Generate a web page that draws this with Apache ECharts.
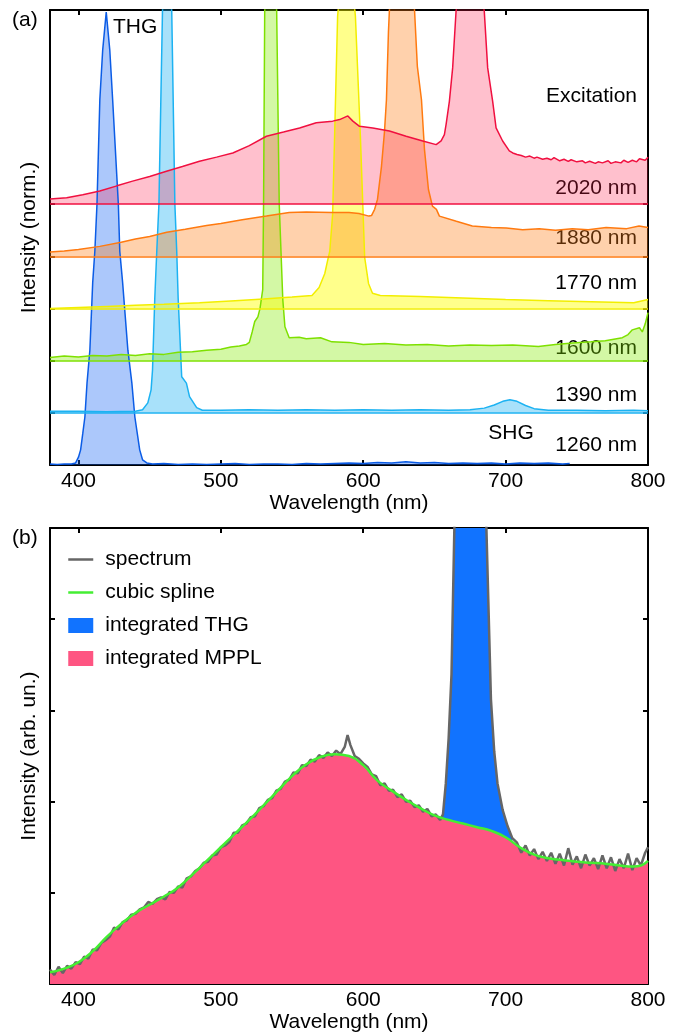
<!DOCTYPE html>
<html>
<head>
<meta charset="utf-8">
<script src="https://cdn.jsdelivr.net/npm/echarts@6/dist/echarts.min.js"></script>
<style>
  html, body { margin: 0; padding: 0; background: #fff; }
  #chart-container { width: 681px; height: 1034px; }
</style>
</head>
<body>
<div id="chart-container"></div>
<script>
// ---- panel (a): spectra, values relative to their own baseline ----
const excitations = ["1260 nm", "1390 nm", "1600 nm", "1770 nm", "1880 nm", "2020 nm"];
const baselines = [0, 1, 2, 3, 4, 5];
const lineColors = ["#0b5ce6", "#1cb2f2", "#7ee000", "#f2ee00", "#ff7a10", "#f01040"];
const fillColors = ["rgba(20,100,245,0.5)", "rgba(28,176,242,0.55)", "rgba(130,235,0,0.5)",
  "rgba(255,255,0,0.65)", "rgba(255,125,20,0.5)", "rgba(255,30,75,0.4)"];

const s1260 = [[380,.02],[385,.01],[390,.02],[395,.02],[398,.04],[400,.15],[401.5,.29],[403,.6],[404.5,.92],
  [406,1.57],[408,2.2],[410,3.5],[411.5,4.1],[413,5.0],[415,7.0],[417,7.95],[419.5,8.68],[422,7.95],[424,7.0],
  [428,5.0],[429,4.1],[431,3.5],[434.7,2.2],[437.5,1.57],[439.6,.92],[443,.29],[445,.1],[448,.04],[452,.02],
  [460,.03],[470,.01],[480,.02],[490,.01],[500,.02],[510,.03],[520,.01],[530,.02],[540,.02],[550,.01],[560,.03],
  [570,.02],[580,.03],[590,.04],[600,.03],[610,.05],[620,.04],[630,.06],[640,.04],[650,.05],[660,.03],[670,.04],
  [680,.03],[690,.04],[700,.02],[710,.04],[720,.03],[730,.04],[740,.02],[745,.03]];
const s1390 = [[380,.03],[400,.03],[420,.02],[440,.03],[445,.06],[448.7,.19],[451,.44],[452,.82],[453.6,2.2],
  [455,3.1],[456.5,4.0],[459,7.7],[462,9.5],[465.5,7.7],[467.7,4.0],[469,3.1],[470,2.2],[472.5,.69],[475.8,.57],
  [478,.31],[483,.1],[487,.05],[500,.05],[520,.06],[540,.05],[560,.06],[580,.05],[600,.06],[620,.05],[640,.06],
  [660,.05],[675,.06],[685,.09],[692,.15],[698,.22],[703,.25],[708,.22],[714,.14],[720,.08],[730,.05],[750,.05],
  [770,.04],[790,.05],[800,.04]];
const s1600 = [[380,.06],[390,.09],[400,.07],[410,.1],[420,.09],[430,.12],[440,.1],[450,.13],[460,.12],[470,.16],
  [480,.17],[490,.2],[500,.22],[507,.26],[513,.28],[518,.31],[520,.35],[522,.55],[523.8,.75],[526,.84],[527.5,1.0],
  [529.4,1.36],[530,3.0],[530.8,6.7],[535,9],[539.2,6.7],[541,3.0],[543.5,1.17],[545,.65],[548,.44],[555,.45],
  [560,.42],[570,.44],[578,.36],[590,.35],[600,.31],[615,.33],[630,.3],[645,.31],[660,.28],[675,.3],[690,.29],
  [705,.3],[723,.27],[735,.31],[747,.34],[760,.36],[770,.38],[782,.44],[786,.5],[789,.59],[794,.63],[796,.55],
  [798,.7],[800,.92]];
const s1770 = [[380,0],[400,.02],[420,.04],[440,.06],[460,.08],[485,.11],[510,.15],[530,.18],[550,.22],[564,.25],
  [569,.4],[573,.67],[575,.92],[576.5,1.1],[578.5,1.8],[582,5.6],[588,7.5],[594.5,5.6],[598,3.3],[601,.98],
  [603.7,.48],[606.5,.29],[612,.25],[640,.23],[670,.2],[700,.17],[730,.15],[760,.13],[790,.11],[800,.17]];
const s1880 = [[380,.08],[390,.1],[400,.13],[415,.19],[430,.27],[440,.33],[450,.38],[462,.46],[475,.52],[490,.59],
  [500,.63],[515,.7],[532,.77],[548,.84],[560,.85],[578,.84],[590,.84],[597,.82],[604,.77],[605.8,.78],[608,.9],
  [610,1.09],[612.8,1.72],[614.9,2.38],[616.3,3.0],[617.7,4.3],[618.4,4.73],[627,7.5],[636,4.73],[638,3.64],
  [640.9,3.0],[643,2.05],[645.8,1.28],[648.6,.96],[651.4,.9],[653.5,.77],[665.4,.67],[676.6,.58],[690,.55],
  [700.5,.54],[712,.51],[723.6,.53],[735,.5],[746.8,.53],[758,.51],[770.6,.55],[785,.53],[793.7,.58],[800,.55]];
const s2020 = [[380,.1],[391.7,.12],[403,.18],[415,.25],[427,.35],[438,.44],[450,.53],[461.8,.63],[473,.72],
  [485,.82],[497,.9],[508.4,.98],[520,1.12],[532,1.3],[544,1.38],[555.3,1.46],[567,1.56],[578.5,1.59],[583.4,1.62],
  [589.2,1.69],[592.7,1.59],[597.4,1.49],[606.7,1.46],[618.4,1.40],[630.1,1.30],[641.8,1.21],[651.2,1.14],
  [654.7,1.21],[657,1.33],[658.2,1.53],[660.5,1.97],[662.8,2.61],[665.2,3.70],[675,5.5],[685,3.70],[687.4,2.61],
  [690.9,1.97],[693.3,1.46],[697.9,1.21],[702.6,1.02],[705,.98],[708,.95],[711,.93],[714,.9],[717,.92],[720,.88],
  [722,.9],[726,.86],[729,.88],[732,.85],[734,.89],[738,.83],[741,.86],[744,.82],[746,.85],[750,.81],[754,.83],
  [756,.79],[759,.82],[763,.78],[765,.81],[768,.79],[772,.83],[774,.78],[777,.81],[781,.79],[783,.84],[786,.8],
  [789,.84],[792,.81],[794,.87],[798,.84],[800,.9]];
const spectraA = [s1260, s1390, s1600, s1770, s1880, s2020];

// ---- panel (b): measured spectrum and cubic spline ----
const spectrumB = [[380,.16],[383,.10],[386,.19],[389,.12],[392,.20],[395,.17],[398,.24],[401,.22],[404,.30],
  [407,.28],[410,.38],[413,.37],[416,.45],[419,.48],[422,.52],[425,.62],[428,.60],[431,.68],[434,.70],[437,.76],
  [440,.77],[443,.82],[446,.84],[449,.90],[452,.88],[455,.93],[458,.95],[461,.93],[464,1.01],[467,1.00],[470,1.07],
  [473,1.06],[476,1.16],[479,1.18],[482,1.24],[485,1.27],[488,1.33],[491,1.34],[494,1.41],[497,1.42],[500,1.50],
  [503,1.52],[506,1.56],[509,1.66],[512,1.66],[515,1.74],[518,1.76],[521,1.83],[524,1.84],[527,1.93],[530,1.95],
  [533,2.02],[536,2.04],[539,2.12],[542,2.14],[545,2.22],[548,2.24],[551,2.32],[554,2.31],[557,2.40],[560,2.39],
  [563,2.46],[566,2.44],[569,2.51],[572,2.48],[575,2.54],[578,2.50],[581,2.56],[584,2.52],[587,2.60],[589,2.73],
  [591,2.62],[594,2.50],[597,2.47],[600,2.42],[603,2.38],[606,2.30],[609,2.28],[612,2.18],[615,2.20],[618,2.12],
  [621,2.13],[624,2.05],[627,2.08],[630,2.00],[633,2.01],[636,1.94],[639,1.96],[642,1.89],[645,1.92],[648,1.84],
  [651,1.86],[654,1.80],[656,1.86],[658,2.20],[660,2.70],[662,3.40],[664,5.00],[667,8.50],[670,11.5],[673,12.5],
  [676,11.5],[680,8.5],[684,6.0],[686.5,5.0],[689.7,3.12],[692,2.55],[694.3,2.20],[697.9,1.91],[701.4,1.73],
  [704.7,1.60],[708,1.55],[711,1.44],[714,1.52],[717,1.41],[720,1.48],[723,1.37],[726,1.45],[729,1.35],[732,1.44],
  [735,1.32],[738,1.43],[741,1.30],[744,1.49],[747,1.31],[750,1.40],[753,1.27],[756,1.42],[759,1.30],[762,1.38],
  [765,1.26],[768,1.41],[771,1.27],[774,1.39],[777,1.24],[780,1.37],[783,1.27],[786,1.43],[789,1.25],[792,1.38],
  [795,1.30],[798,1.44],[800,1.50]];
const splineB = [[380,.13],[390,.17],[400,.24],[410,.36],[420,.52],[430,.66],[440,.78],[450,.87],[460,.96],
  [470,1.06],[480,1.2],[490,1.35],[500,1.5],[510,1.65],[520,1.8],[530,1.96],[540,2.12],[550,2.28],[560,2.41],
  [570,2.49],[580,2.52],[590,2.5],[600,2.4],[610,2.23],[620,2.12],[630,2.02],[640,1.93],[650,1.85],[660,1.8],
  [670,1.76],[680,1.72],[690,1.68],[700,1.61],[710,1.5],[720,1.42],[730,1.38],[740,1.36],[750,1.34],[760,1.33],
  [770,1.32],[780,1.3],[790,1.29],[795,1.3],[800,1.35]];
const thgRange = [654, 705];

const xTicks = [400, 500, 600, 700];
const xLabels = [400, 500, 600, 700, 800];
const yTicksA = [1, 2, 3, 4, 5];
const yTicksB = [1, 2, 3, 4];

const FONT = "Liberation Sans, Arial, Helvetica, sans-serif";

var dom = document.getElementById("chart-container");
var myChart = echarts.init(dom, null, { renderer: "canvas" });

const frame = { show: true, onZero: false, lineStyle: { color: "#000", width: 2 } };
const xAxisOf = (grid, pos, withLabels) => ({
  gridIndex: grid, type: "value", position: pos, min: 380, max: 800,
  axisLine: frame,
  axisTick: { show: true, inside: true, length: 5, customValues: xTicks, lineStyle: { color: "#000", width: 2 } },
  axisLabel: withLabels
    ? { show: true, customValues: xLabels, fontSize: 21, fontFamily: FONT, color: "#000", margin: 6 }
    : { show: false },
  splitLine: { show: false },
  name: withLabels ? "Wavelength (nm)" : "",
  nameLocation: "middle", nameGap: 26,
  nameTextStyle: { fontSize: 21, fontFamily: FONT, color: "#000" }
});
const yAxisOf = (grid, pos, max, ticks, title) => ({
  gridIndex: grid, type: "value", position: pos, min: 0, max: max,
  axisLine: frame,
  axisTick: { show: true, inside: true, length: 5, customValues: ticks, lineStyle: { color: "#000", width: 2 } },
  axisLabel: { show: false },
  splitLine: { show: false },
  name: title || "", nameLocation: "middle", nameGap: 10,
  nameTextStyle: { fontSize: 21, fontFamily: FONT, color: "#000" }
});

const seriesA = spectraA.map((s, i) => ({
  name: excitations[i], type: "line", xAxisIndex: 0, yAxisIndex: 0,
  data: s.map(p => [p[0], p[1] + baselines[i]]),
  showSymbol: false, symbol: "none", clip: true,
  lineStyle: { color: lineColors[i], width: 1.5 },
  itemStyle: { color: lineColors[i] },
  areaStyle: { color: fillColors[i], origin: baselines[i] },
  markLine: baselines[i] > 0 ? {
    silent: true, symbol: "none", label: { show: false },
    lineStyle: { color: lineColors[i], width: 1.5, type: "solid" },
    data: [{ yAxis: baselines[i] }]
  } : undefined
}));

const seriesB = [
  {
    name: "integrated THG", type: "line", xAxisIndex: 2, yAxisIndex: 2,
    data: spectrumB.filter(p => p[0] >= thgRange[0] && p[0] <= thgRange[1]),
    showSymbol: false, symbol: "none", clip: true,
    lineStyle: { width: 0 }, itemStyle: { color: "#1173ff" },
    areaStyle: { color: "#1173ff", opacity: 1 }
  },
  {
    name: "integrated MPPL", type: "line", xAxisIndex: 2, yAxisIndex: 2,
    data: splineB, smooth: true,
    showSymbol: false, symbol: "none", clip: true,
    lineStyle: { width: 0 }, itemStyle: { color: "#fe5582" },
    areaStyle: { color: "#fe5582", opacity: 1 }
  },
  {
    name: "spectrum", type: "line", xAxisIndex: 2, yAxisIndex: 2,
    data: spectrumB, showSymbol: false, symbol: "none", clip: true,
    lineStyle: { color: "#666666", width: 2.5 }, itemStyle: { color: "#666666" }
  },
  {
    name: "cubic spline", type: "line", xAxisIndex: 2, yAxisIndex: 2,
    data: splineB, smooth: true, showSymbol: false, symbol: "none", clip: true,
    lineStyle: { color: "#44ee33", width: 2.5 }, itemStyle: { color: "#44ee33" }
  }
];

const textAt = (text, x, y, align) => ({
  type: "text", x: x, y: y,
  style: { text: text, font: "21px " + FONT, fill: "#000",
    textAlign: align || "left", textVerticalAlign: "middle" }
});

var option = {
  animation: false,
  backgroundColor: "#fff",
  grid: [
    { left: 50, top: 10, width: 598, height: 455 },
    { left: 50, top: 528, width: 598, height: 457 }
  ],
  xAxis: [
    xAxisOf(0, "bottom", true), xAxisOf(0, "top", false),
    xAxisOf(1, "bottom", true), xAxisOf(1, "top", false)
  ],
  yAxis: [
    yAxisOf(0, "left", 8.72, yTicksA, "Intensity (norm.)"), yAxisOf(0, "right", 8.72, yTicksA),
    yAxisOf(1, "left", 5, yTicksB, "Intensity (arb. un.)"), yAxisOf(1, "right", 5, yTicksB)
  ],
  legend: {
    orient: "vertical", left: 62, top: 544, itemWidth: 25, itemHeight: 15, itemGap: 12,
    selectedMode: false,
    textStyle: { fontSize: 21, fontFamily: FONT, color: "#000", padding: [0, 0, 0, 7] },
    data: [
      { name: "spectrum", itemStyle: { opacity: 0 }, lineStyle: { width: 2.5, color: "#666666" } },
      { name: "cubic spline", itemStyle: { opacity: 0 }, lineStyle: { width: 2.5, color: "#44ee33" } },
      { name: "integrated THG", icon: "rect" }, { name: "integrated MPPL", icon: "rect" }
    ]
  },
  graphic: [
    textAt("(a)", 12, 20), textAt("(b)", 12, 538),
    textAt("THG", 113, 27),
    textAt("Excitation", 637, 96, "right"),
    textAt("2020 nm", 637, 188, "right"),
    textAt("1880 nm", 637, 238, "right"),
    textAt("1770 nm", 637, 283, "right"),
    textAt("1600 nm", 637, 348, "right"),
    textAt("1390 nm", 637, 395, "right"),
    textAt("SHG", 511, 433, "center"),
    textAt("1260 nm", 637, 445, "right")
  ],
  series: seriesA.concat(seriesB)
};

myChart.setOption(option);
window.addEventListener("resize", myChart.resize);
</script>
</body>
</html>
